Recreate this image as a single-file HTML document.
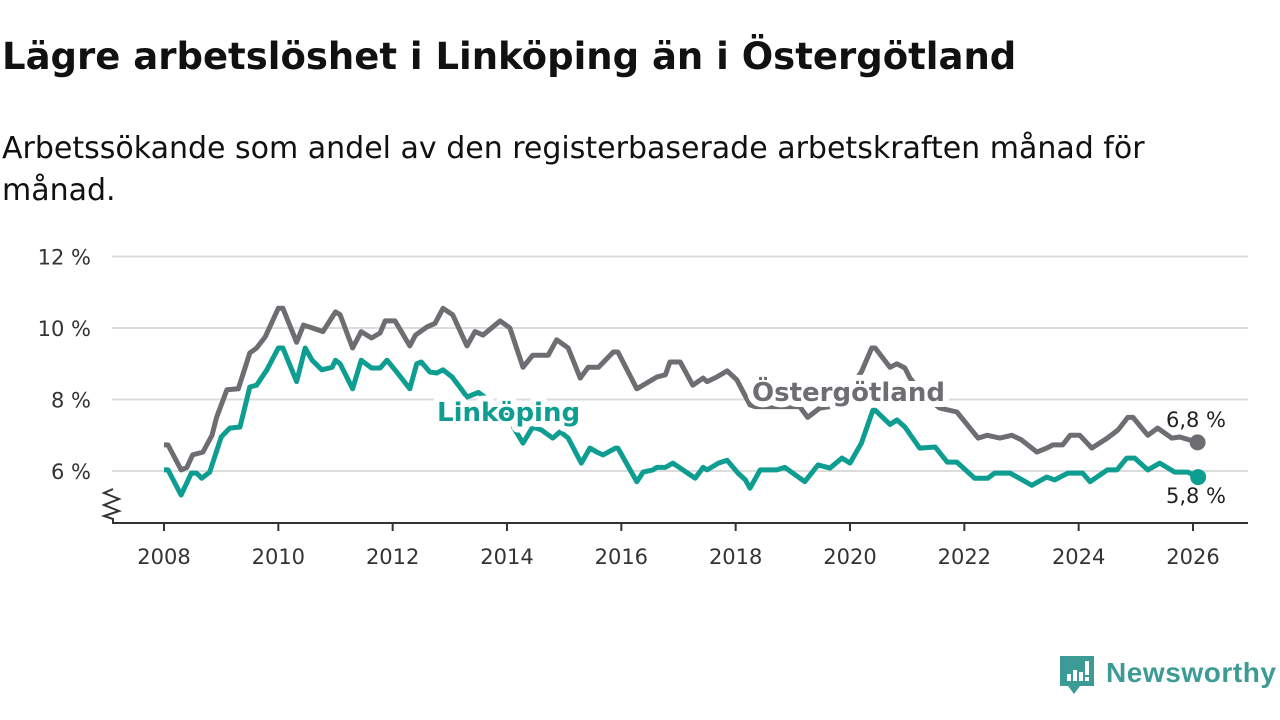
<!DOCTYPE html>
<html><head><meta charset="utf-8">
<style>
html,body{margin:0;padding:0;background:#fff;width:1280px;height:720px;overflow:hidden}
body{font-family:"DejaVu Sans","Liberation Sans",sans-serif;color:#111}
#title{position:absolute;left:2px;top:35px;font-size:37px;font-weight:bold;margin:0;color:#111;white-space:nowrap}
#subtitle{position:absolute;left:2px;top:128px;font-size:30px;line-height:42px;color:#111;width:1200px;margin:0}
svg{position:absolute;left:0;top:0}
</style></head><body>
<h1 id="title">Lägre arbetslöshet i Linköping än i Östergötland</h1>
<p id="subtitle">Arbetssökande som andel av den registerbaserade arbetskraften månad för månad.</p>
<svg id="chart" width="1280" height="720"></svg>
<script>
const yTicks=[6,8,10,12];
const xTicks=[2008,2010,2012,2014,2016,2018,2020,2022,2024,2026];
const ostT=[2008.0,2008.07,2008.3,2008.4,2008.5,2008.68,2008.84,2008.92,2009.1,2009.3,2009.5,2009.62,2009.77,2010.0,2010.08,2010.32,2010.44,2010.6,2010.78,2011.0,2011.08,2011.3,2011.45,2011.63,2011.78,2011.87,2012.04,2012.3,2012.4,2012.6,2012.74,2012.88,2013.05,2013.3,2013.44,2013.58,2013.88,2014.05,2014.28,2014.45,2014.72,2014.87,2015.07,2015.28,2015.42,2015.6,2015.86,2015.94,2016.27,2016.38,2016.62,2016.77,2016.85,2017.03,2017.25,2017.43,2017.5,2017.67,2017.85,2018.02,2018.25,2018.34,2018.7,2019.0,2019.12,2019.26,2019.47,2019.65,2019.9,2020.2,2020.38,2020.44,2020.7,2020.82,2020.96,2021.05,2021.3,2021.57,2021.87,2022.24,2022.4,2022.62,2022.83,2023.0,2023.27,2023.44,2023.55,2023.72,2023.85,2024.02,2024.23,2024.5,2024.69,2024.86,2024.95,2025.21,2025.38,2025.63,2025.77,2026.08];
const ostV=[6.73,6.73,6.03,6.1,6.45,6.53,7.0,7.5,8.27,8.3,9.3,9.44,9.75,10.55,10.55,9.6,10.08,10.0,9.9,10.45,10.37,9.44,9.9,9.72,9.86,10.2,10.2,9.5,9.8,10.03,10.13,10.55,10.37,9.5,9.9,9.8,10.2,10.0,8.9,9.24,9.24,9.67,9.44,8.6,8.9,8.9,9.33,9.33,8.3,8.4,8.63,8.69,9.05,9.05,8.4,8.6,8.5,8.63,8.8,8.55,7.85,7.8,7.8,7.8,7.8,7.5,7.76,7.8,8.1,8.77,9.44,9.44,8.9,9.0,8.88,8.6,8.1,7.76,7.65,6.92,7.0,6.92,7.0,6.87,6.53,6.64,6.73,6.73,7.0,7.0,6.64,6.92,7.15,7.5,7.5,7.0,7.2,6.92,6.95,6.8];
const linT=[2008.0,2008.07,2008.3,2008.48,2008.57,2008.66,2008.8,2009.0,2009.15,2009.33,2009.5,2009.62,2009.8,2010.0,2010.08,2010.32,2010.47,2010.59,2010.76,2010.94,2011.0,2011.08,2011.3,2011.45,2011.63,2011.78,2011.9,2012.07,2012.3,2012.42,2012.5,2012.65,2012.77,2012.88,2013.04,2013.21,2013.3,2013.5,2013.75,2014.0,2014.14,2014.28,2014.45,2014.6,2014.8,2014.93,2015.07,2015.3,2015.45,2015.57,2015.68,2015.9,2015.94,2016.27,2016.38,2016.55,2016.62,2016.77,2016.9,2017.29,2017.43,2017.5,2017.7,2017.85,2018.04,2018.17,2018.25,2018.43,2018.72,2018.86,2019.21,2019.44,2019.65,2019.86,2020.0,2020.2,2020.4,2020.44,2020.7,2020.82,2020.96,2021.22,2021.49,2021.7,2021.87,2022.18,2022.41,2022.53,2022.8,2023.18,2023.44,2023.58,2023.81,2024.07,2024.2,2024.5,2024.67,2024.84,2024.98,2025.21,2025.42,2025.68,2025.91,2026.09];
const linV=[6.03,6.03,5.33,5.94,5.94,5.8,5.97,6.95,7.2,7.23,8.35,8.4,8.83,9.44,9.44,8.5,9.44,9.1,8.83,8.9,9.1,9.0,8.3,9.1,8.88,8.88,9.1,8.77,8.3,9.0,9.05,8.77,8.74,8.83,8.63,8.27,8.07,8.2,7.9,7.6,7.15,6.78,7.23,7.15,6.92,7.1,6.92,6.22,6.64,6.53,6.45,6.64,6.64,5.7,5.97,6.03,6.1,6.1,6.22,5.8,6.1,6.03,6.22,6.3,5.94,5.75,5.52,6.03,6.03,6.1,5.7,6.17,6.08,6.36,6.22,6.78,7.7,7.7,7.3,7.43,7.23,6.64,6.67,6.25,6.25,5.8,5.8,5.94,5.94,5.6,5.83,5.75,5.94,5.94,5.7,6.03,6.03,6.36,6.36,6.03,6.22,5.97,5.97,5.83];
const ostLast="6,8 %";
const linLast="5,8 %";

const NS="http://www.w3.org/2000/svg";
const svg=document.getElementById('chart');
const FONT='DejaVu Sans, Liberation Sans, sans-serif';
function xs(t){return 164+(t-2008)*(1193-164)/18;}
function ys(v){return 471-(v-6)*35.75;}
function mk(tag,attrs,parent){const e=document.createElementNS(NS,tag);for(const k in attrs)e.setAttribute(k,attrs[k]);(parent||svg).appendChild(e);return e;}

yTicks.forEach(v=>{
  const g=mk('line',{x1:112,x2:1248,y1:ys(v),y2:ys(v),stroke:'#dcdcdc','stroke-width':2});
  
  
  const t=mk('text',{x:91,y:ys(v)+8,'text-anchor':'end','font-size':21,fill:'#333','font-family':FONT});
  t.textContent=v+' %';
  
  
});
const ax=mk('path',{d:'M113 489 L104 493 L119 499 L104 505 L119 511 L104 516 L113 519 L113 523 L1248 523',fill:'none',stroke:'#333','stroke-width':2});


xTicks.forEach(y=>{
  const l=mk('line',{x1:xs(y),x2:xs(y),y1:523,y2:531,stroke:'#333','stroke-width':2});
  
  
  const t=mk('text',{x:xs(y),y:564,'text-anchor':'middle','font-size':21,fill:'#333','font-family':FONT});
  t.textContent=y;
  
  
});
function line(T,V,color,name){
  let d='';T.forEach((t,i)=>{d+=(i?'L':'M')+xs(t).toFixed(1)+' '+ys(V[i]).toFixed(1)+' ';});
  const p=mk('path',{d:d,fill:'none',stroke:color,'stroke-width':5,'stroke-linejoin':'round'});
  
  
  const n=T.length-1;
  const c=mk('circle',{cx:xs(T[n]),cy:ys(V[n]),r:8,fill:color});
  
  
}
line(ostT,ostV,'#6e6d72','ostergotland-line');
line(linT,linV,'#0e9e91','linkoping-line');
function label(txt,x,y,color,name,size,bold,anchor){
  const t=mk('text',{x:x,y:y,'font-size':size,'font-weight':bold?'bold':'normal',fill:color,stroke:'#fff','stroke-width':bold?12:5,'paint-order':'stroke','stroke-linejoin':'round','text-anchor':anchor||'start','font-family':FONT});
  t.textContent=txt;
  
  
}
label('Linköping',437,421,'#0e9e91','linkoping-label',26,true);
label('Östergötland',752,401,'#6e6d72','ostergotland-label',26,true);
label(ostLast,1196,427,'#222','ostergotland-last-value',21,false,'middle');
label(linLast,1196,503,'#222','linkoping-last-value',21,false,'middle');

const lg=mk('g',{});


mk('path',{d:'M1060 656 h34 v30 h-14 l-6 8 l-6 -8 h-8 z',fill:'#3d9b95'},lg);
mk('rect',{x:1067,y:674,width:4,height:7,fill:'#fff'},lg);
mk('rect',{x:1073,y:670,width:4,height:11,fill:'#fff'},lg);
mk('rect',{x:1079,y:672,width:4,height:9,fill:'#fff'},lg);
mk('rect',{x:1085,y:661,width:4,height:14,fill:'#fff'},lg);
mk('rect',{x:1085,y:677,width:4,height:4,fill:'#fff'},lg);
const lt=mk('text',{x:1106,y:682,'font-size':28,'font-weight':'bold',fill:'#3d9b95','font-family':'Liberation Sans, sans-serif',textLength:170},lg);
lt.textContent='Newsworthy';
</script>
</body></html>
